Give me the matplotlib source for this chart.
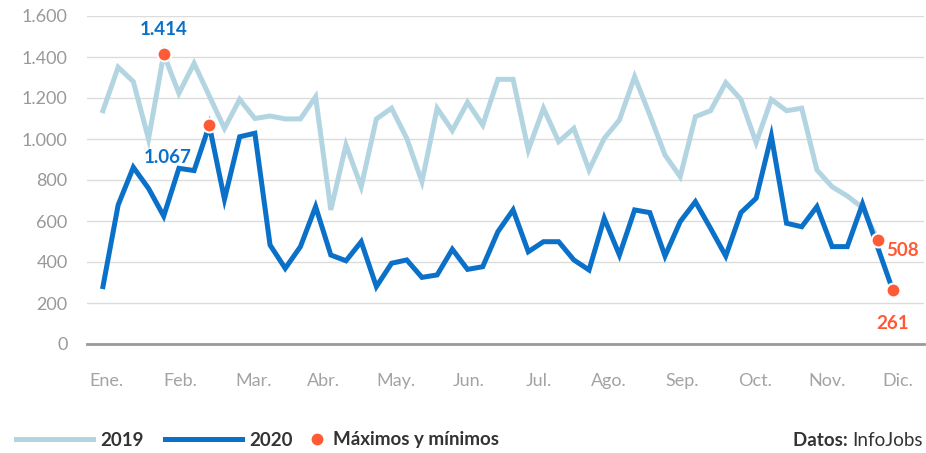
import numpy as np
import matplotlib
matplotlib.use("Agg")
import matplotlib.pyplot as plt
from matplotlib.ticker import FuncFormatter

# weekly values
vals_2019 = [1138, 1350, 1280, 1000, 1414, 1223, 1369, 1210, 1052, 1193,
             1100, 1112, 1098, 1098, 1206, 654, 971, 767, 1098, 1150,
             1003, 792, 1150, 1041, 1179, 1068, 1291, 1291, 946, 1150,
             987, 1052, 849, 1003, 1093, 1304, 1117, 922, 816, 1109,
             1138, 1275, 1193, 982, 1193, 1138, 1150, 849, 767, 722,
             665, 508]
vals_2020 = [280, 678, 862, 759, 624, 857, 846, 1067, 706, 1011,
             1028, 483, 369, 475, 670, 434, 406, 499, 280, 394,
             410, 325, 337, 462, 364, 377, 548, 654, 450, 499,
             499, 410, 361, 613, 434, 654, 641, 429, 597, 694,
             564, 429, 641, 711, 1015, 589, 572, 670, 475, 475,
             683, 472, 261]
months = ['Ene.', 'Feb.', 'Mar.', 'Abr.', 'May.', 'Jun.',
          'Jul.', 'Ago.', 'Sep.', 'Oct.', 'Nov.', 'Dic.']
month_pos = [0.2, 5.1, 9.9, 14.5, 19.3, 24.1, 28.7, 33.3, 38.1, 42.9, 47.7, 52.3]

c19 = '#b3d5e2'
c20 = '#0a70c8'
corange = '#ff5a36'
font = 'Lato'

def fmt(v):
    return f"{int(v):,}".replace(',', '.')

fig = plt.figure(figsize=(9.26, 4.53), dpi=100)
ax = fig.add_axes([87 / 926, 109 / 453, 837 / 926, 328 / 453])

w19 = np.arange(len(vals_2019))
w20 = np.arange(len(vals_2020))
l19, = ax.plot(w19, vals_2019, color=c19, lw=3.6, solid_joinstyle='miter', zorder=3, label='2019')
l20, = ax.plot(w20, vals_2020, color=c20, lw=3.6, solid_joinstyle='miter', zorder=4, label='2020')

# maxima / minima
i19max, i19min = int(np.argmax(vals_2019)), int(np.argmin(vals_2019))
i20max, i20min = int(np.argmax(vals_2020)), int(np.argmin(vals_2020))
px = [i19max, i20max, i19min, i20min]
py = [vals_2019[i19max], vals_2020[i20max], vals_2019[i19min], vals_2020[i20min]]
dots, = ax.plot(px, py, 'o', ls='none', ms=10, color=corange, mec='white', mew=1.5,
                zorder=6, label='Máximos y mínimos')

ax.annotate(fmt(vals_2019[i19max]), (i19max, vals_2019[i19max]), xytext=(0, 18),
            textcoords='offset points', ha='center', va='center', color=c20,
            fontsize=13.5, fontweight='bold', family=font, zorder=7)
ax.annotate(fmt(vals_2020[i20max]), (i20max, vals_2020[i20max]), xytext=(-30, -23),
            textcoords='offset points', ha='center', va='center', color=c20,
            fontsize=13.5, fontweight='bold', family=font, zorder=7)
ax.annotate(fmt(vals_2019[i19min]), (i19min, vals_2019[i19min]), xytext=(6, -8),
            textcoords='offset points', ha='left', va='center', color=corange,
            fontsize=13.5, fontweight='bold', family=font, zorder=7)
ax.annotate(fmt(vals_2020[i20min]), (i20min, vals_2020[i20min]), xytext=(0, -24),
            textcoords='offset points', ha='center', va='center', color=corange,
            fontsize=13.5, fontweight='bold', family=font, zorder=7)

ax.set_ylim(0, 1600)
ax.set_xlim(-1.05, 54.05)
ax.set_yticks(range(0, 1601, 200))
ax.yaxis.set_major_formatter(FuncFormatter(lambda v, p: fmt(v)))
ax.set_xticks(month_pos)
ax.set_xticklabels(months)
ax.grid(axis='y', color='#dcdcdc', lw=1)
ax.set_axisbelow(True)
for s in ['top', 'right', 'left']:
    ax.spines[s].set_visible(False)
ax.spines['bottom'].set_color('#999999')
ax.spines['bottom'].set_linewidth(2)
ax.tick_params(axis='y', length=0, pad=14, labelsize=13, labelcolor='#999999')
ax.tick_params(axis='x', length=0, pad=21, labelsize=13, labelcolor='#a3a3a3')
for t in ax.get_yticklabels() + ax.get_xticklabels():
    t.set_family(font)

leg_y = 13 / 453
legprops = {'family': font, 'weight': 'bold', 'size': 13.5}
leg1 = fig.legend(handles=[l19, l20], loc='center left', bbox_to_anchor=(16 / 926, leg_y),
                  ncol=2, frameon=False, borderpad=0, borderaxespad=0,
                  handlelength=4.1, handletextpad=0.39, columnspacing=1.15, prop=legprops)
leg2 = fig.legend(handles=[dots], loc='center left', bbox_to_anchor=(308 / 926, leg_y),
                  frameon=False, borderpad=0, borderaxespad=0, numpoints=1,
                  handlelength=1.0, handletextpad=0.33, prop=legprops)
for lg in (leg1, leg2):
    for t in lg.get_texts():
        t.set_color('#333333')

src = fig.text(0.997, leg_y, 'InfoJobs', ha='right', va='center', color='#333333',
               fontsize=13.5, family=font)
ax.annotate('Datos: ', xy=(0, 0.5), xycoords=src, ha='right', va='center',
            color='#333333', fontsize=13.5, fontweight='bold', family=font,
            annotation_clip=False)

fig.savefig('out.png', dpi=100)
